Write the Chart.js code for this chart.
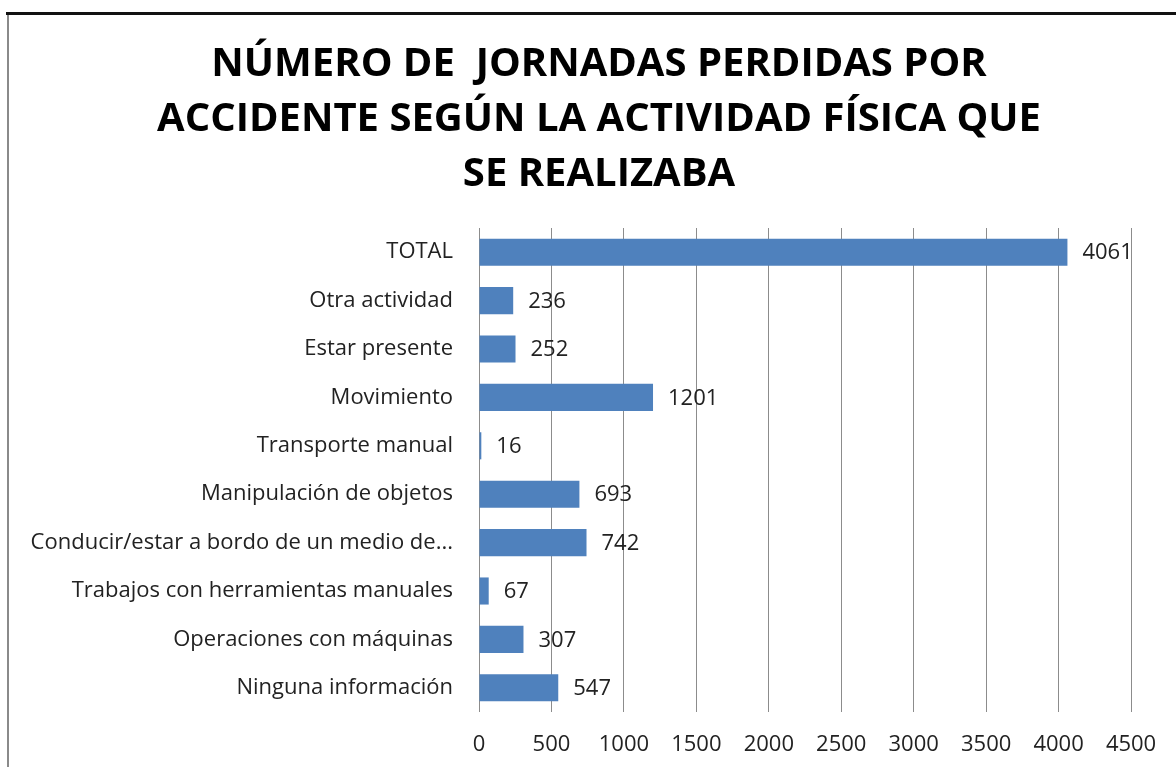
<!DOCTYPE html>
<html>
<head>
<meta charset="utf-8">
<script src="https://cdn.jsdelivr.net/npm/chart.js@4"></script>
<style>
  html, body { margin: 0; padding: 0; background: #fff; overflow: hidden; }
  .frame-top { position: absolute; left: 6px; top: 12px; width: 1170px; height: 3px; background: #111; }
  .frame-left { position: absolute; left: 7px; top: 15px; width: 2px; height: 760px; background: #8a8a8a; }
  #jornadasChart { position: absolute; left: 9px; top: 15px; }
</style>
</head>
<body>
<div class="frame-top"></div>
<div class="frame-left"></div>
<canvas id="jornadasChart" width="1180" height="752"></canvas>
<script>
const categories = [
    'TOTAL',
    'Otra actividad',
    'Estar presente',
    'Movimiento',
    'Transporte manual',
    'Manipulación de objetos',
    'Conducir/estar a bordo de un medio de...',
    'Trabajos con herramientas manuales',
    'Operaciones con máquinas',
    'Ninguna información'
];
const jornadas = [4061, 236, 252, 1201, 16, 693, 742, 67, 307, 547];
const xTicks = [0, 500, 1000, 1500, 2000, 2500, 3000, 3500, 4000, 4500];
const titleLines = [
    'NÚMERO DE  JORNADAS PERDIDAS POR',
    'ACCIDENTE SEGÚN LA ACTIVIDAD FÍSICA QUE',
    'SE REALIZABA'
];

const labelFont = '22px "Open Sans"';

// writes each bar's value just past its end
const valueLabels = {
    id: 'valueLabels',
    afterDatasetsDraw(chart) {
        const ctx = chart.ctx;
        const meta = chart.getDatasetMeta(0);
        ctx.save();
        ctx.font = labelFont;
        ctx.fillStyle = '#222';
        ctx.textAlign = 'left';
        ctx.textBaseline = 'middle';
        meta.data.forEach(function (bar, i) {
            ctx.fillText(String(jornadas[i]), bar.x + 15, bar.y + 1);
        });
        ctx.restore();
    }
};

const ctx = document.getElementById('jornadasChart').getContext('2d');
const jornadasChart = new Chart(ctx, {
    type: 'bar',
    data: {
        labels: categories,
        datasets: [{
            data: jornadas,
            backgroundColor: '#4F81BD',
            borderWidth: 0,
            barPercentage: 0.56,
            categoryPercentage: 1
        }]
    },
    options: {
        indexAxis: 'y',
        responsive: false,
        animation: false,
        plugins: {
            legend: { display: false },
            tooltip: { enabled: false },
            title: {
                display: true,
                text: titleLines,
                color: '#000',
                font: { family: 'Open Sans', size: 40, weight: 'bold', lineHeight: 55 / 40 },
                padding: { top: 22, bottom: 26 }
            }
        },
        scales: {
            x: {
                min: 0,
                // room past the last gridline for the title to sit centred on the whole frame
                max: 4900,
                afterBuildTicks(scale) {
                    scale.ticks = xTicks.map(v => ({ value: v }));
                },
                afterFit(scale) {
                    scale.height = 55;
                },
                grid: { color: '#8c8c8c', lineWidth: 1, drawTicks: false },
                border: { display: false },
                ticks: {
                    padding: 20,
                    color: '#222',
                    font: { family: 'Open Sans', size: 22 },
                    callback: v => String(v)
                }
            },
            y: {
                afterFit(scale) {
                    scale.width = 470;
                },
                grid: { display: false, drawTicks: false },
                border: { display: false },
                ticks: {
                    padding: 26,
                    color: '#222',
                    autoSkip: false,
                    font: { family: 'Open Sans', size: 22 }
                }
            }
        }
    },
    plugins: [valueLabels]
});
</script>
</body>
</html>
